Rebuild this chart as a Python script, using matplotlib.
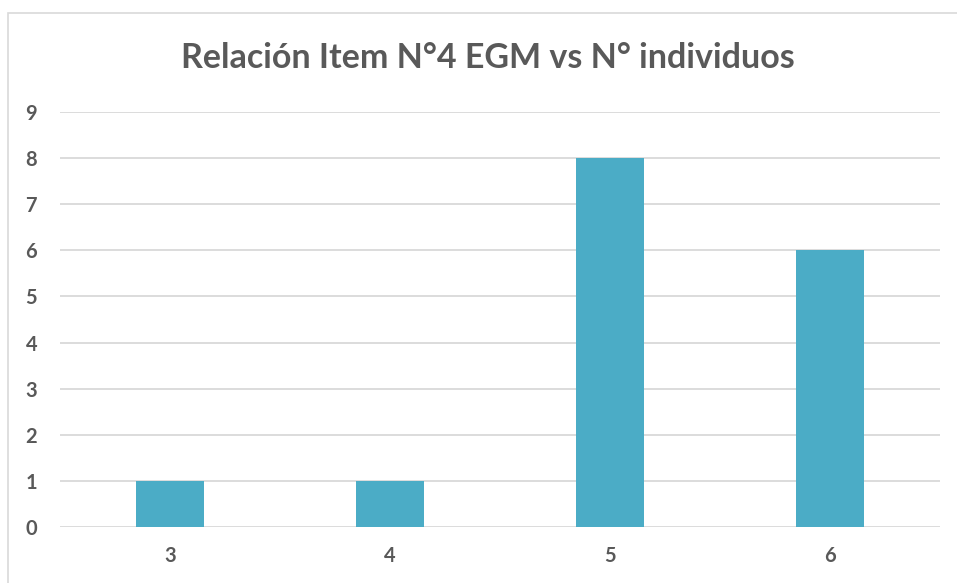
import matplotlib
matplotlib.use("Agg")
import matplotlib.pyplot as plt
from matplotlib.patches import Rectangle

# data
categories = ["3", "4", "5", "6"]
counts = [1, 1, 8, 6]
y_ticks = list(range(0, 10))
title = "Relación Item N°4 EGM vs N° individuos"

W, H = 957, 583
fig = plt.figure(figsize=(W / 100, H / 100), dpi=100)
plt.rcParams['font.family'] = ['Lato', 'DejaVu Sans']

# plot area in pixels: x 60..940, y 112..527
ax = fig.add_axes([60 / W, 1 - 527 / H, 880 / W, 415 / H])

grey = "#595959"
ax.bar(range(len(categories)), counts, width=0.31, color="#4BACC6", zorder=3)
ax.set_xlim(-0.5, len(categories) - 0.5)
ax.set_ylim(0, 9)
ax.set_yticks(y_ticks)
ax.set_xticks(range(len(categories)))
ax.set_xticklabels(categories)
ax.grid(axis="y", color="#d9d9d9", linewidth=1.3, zorder=0)
for s in ax.spines.values():
    s.set_visible(False)
ax.tick_params(length=0, labelsize=14.5, labelcolor=grey, pad=0)
ax.tick_params(axis="y", pad=16.5)
ax.tick_params(axis="x", pad=14)
for lab in ax.get_xticklabels() + ax.get_yticklabels():
    lab.set_fontweight("bold")

fig.text(488 / W, 1 - 58 / H, title, ha="center", va="center",
         fontsize=24.5, fontweight="bold", color=grey)

# chart border (only top and left are inside the image)
fig.patches.append(Rectangle((8 / W, -0.05), 1.2, 1 - 13 / H + 0.05,
                             transform=fig.transFigure, fill=False,
                             edgecolor="#d9d9d9", linewidth=1.2))

fig.savefig("out.png", dpi=100)
